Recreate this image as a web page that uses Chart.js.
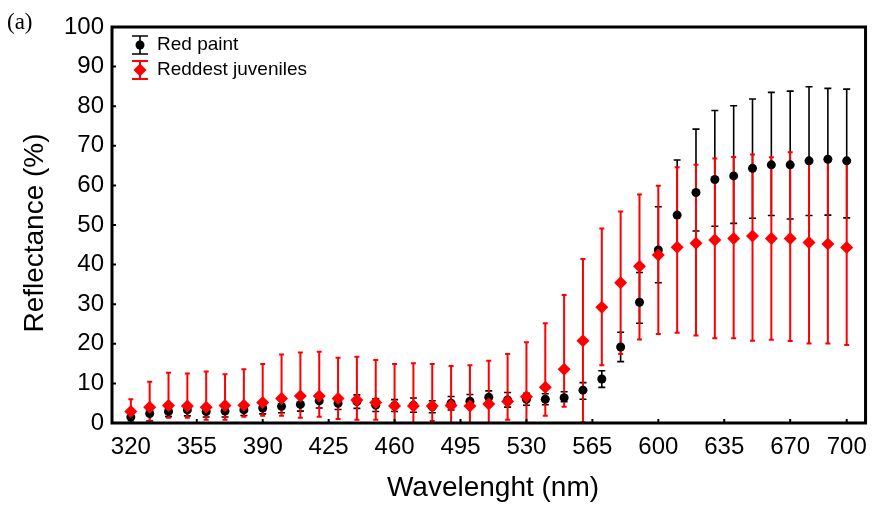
<!DOCTYPE html>
<html>
<head>
<meta charset="utf-8">
<script src="https://cdn.jsdelivr.net/npm/chart.js@4/dist/chart.umd.min.js"></script>
<style>
  html, body { margin: 0; padding: 0; background: #fff; }
  canvas { display: block; }
</style>
</head>
<body>
<canvas id="chart" width="877" height="506"></canvas>
<script>
// wavelengths (nm)
const wavelengths = [320, 330, 340, 350, 360, 370, 380, 390, 400, 410, 420, 430, 440, 450, 460, 470, 480, 490, 500,
  510, 520, 530, 540, 550, 560, 570, 580, 590, 600, 610, 620, 630, 640, 650, 660, 670, 680, 690, 700];

// Red paint: mean, lower and upper end of the error bar
const paintMean = [1.5, 2.4, 2.9, 3.3, 2.9, 3.0, 3.3, 3.8, 4.2, 4.7, 5.6, 5.0, 5.4, 4.5, 4.4, 4.5, 4.1, 5.0, 5.5,
  6.5, 5.8, 6.0, 6.0, 6.4, 8.3, 11.1, 19.2, 30.5, 43.7, 52.5, 58.2, 61.5, 62.4, 64.3, 65.2, 65.2, 66.2, 66.6, 66.2];
const paintLow = [0.2, 0.5, 1.6, 1.8, 1.5, 1.5, 1.9, 2.3, 2.6, 3.0, 3.8, 3.4, 3.7, 2.9, 2.9, 2.7, 2.6, 3.3, 4.0,
  5.4, 4.0, 4.5, 4.6, 5.4, 6.0, 9.0, 15.5, 25.2, 35.4, 44.0, 48.5, 49.7, 50.4, 51.7, 52.4, 51.5, 52.4, 52.5, 51.8];
const paintHigh = [2.8, 3.6, 4.1, 4.8, 4.3, 4.5, 4.7, 5.3, 5.8, 6.4, 7.4, 6.6, 7.1, 6.1, 5.9, 6.3, 5.6, 6.7, 7.2,
  8.1, 7.7, 7.5, 7.4, 7.9, 10.2, 13.2, 22.9, 38.0, 54.6, 66.4, 74.2, 78.9, 80.1, 81.8, 83.5, 83.8, 84.9, 84.5, 84.3];

// Reddest juveniles
const juvMean = [2.9, 4.0, 4.4, 4.3, 4.0, 4.4, 4.5, 5.2, 6.2, 6.8, 6.8, 6.2, 5.8, 5.2, 4.3, 4.3, 4.3, 4.4, 4.3,
  4.8, 5.4, 6.6, 9.0, 13.6, 20.8, 29.2, 35.4, 39.6, 42.4, 44.4, 45.4, 46.2, 46.6, 47.2, 46.6, 46.6, 45.6, 45.2, 44.3];
const juvLow = [1.6, 0.3, 1.3, 1.3, 0.8, 0.8, 1.6, 1.8, 1.8, 1.3, 1.6, 1.0, 0.8, 0.8, 0.0, 0.0, 0.5, 0.0, 0.0,
  0.0, 0.8, 0.0, 1.8, 4.1, 0.2, 14.6, 17.4, 21.1, 22.5, 22.8, 22.1, 21.4, 21.4, 20.8, 21.0, 20.7, 20.1, 20.1, 19.7];
const juvHigh = [6.0, 10.4, 12.7, 12.5, 13.0, 12.3, 13.6, 14.9, 17.3, 17.8, 18.0, 16.5, 16.7, 15.9, 14.9, 15.1, 14.9, 14.4, 14.6,
  15.7, 17.4, 20.4, 25.2, 32.3, 41.4, 49.1, 53.4, 57.7, 59.9, 64.6, 65.2, 66.8, 67.2, 67.8, 67.1, 68.4, 66.8, 67.2, 66.0];

const xTicks = [320, 355, 390, 425, 460, 495, 530, 565, 600, 635, 670, 700];

const FONT = "'Liberation Sans', Arial, sans-serif";
Chart.defaults.font.family = FONT;
Chart.defaults.color = '#000';

function toPoints(ys) {
  return wavelengths.map((w, i) => ({x: w, y: ys[i]}));
}

function drawBar(ctx, px, top, bottom, cap, color, width) {
  ctx.strokeStyle = color;
  ctx.lineWidth = width;
  ctx.beginPath();
  ctx.moveTo(px, top); ctx.lineTo(px, bottom);
  ctx.moveTo(px - cap, top); ctx.lineTo(px + cap, top);
  ctx.moveTo(px - cap, bottom); ctx.lineTo(px + cap, bottom);
  ctx.stroke();
}

const errorBars = {
  id: 'errorBars',
  beforeDatasetsDraw(chart) {
    const {ctx, scales: {x, y}} = chart;
    ctx.save();
    wavelengths.forEach((w, i) => {
      drawBar(ctx, x.getPixelForValue(w), y.getPixelForValue(paintHigh[i]), y.getPixelForValue(paintLow[i]), 3.5, '#000', 1.6);
    });
    wavelengths.forEach((w, i) => {
      drawBar(ctx, x.getPixelForValue(w), y.getPixelForValue(juvHigh[i]), y.getPixelForValue(juvLow[i]), 2.5, '#ff0000', 2);
    });
    ctx.restore();
  }
};

const frame = {
  id: 'frame',
  afterDraw(chart) {
    const {ctx, chartArea: a, scales: {x, y}} = chart;
    ctx.save();
    // inward ticks
    ctx.strokeStyle = '#000';
    ctx.lineWidth = 2;
    ctx.beginPath();
    x.ticks.forEach(t => {
      const px = x.getPixelForValue(t.value);
      ctx.moveTo(px, a.bottom); ctx.lineTo(px, a.bottom - 4);
    });
    y.ticks.forEach(t => {
      const py = y.getPixelForValue(t.value);
      ctx.moveTo(a.left, py); ctx.lineTo(a.left + 4, py);
    });
    ctx.stroke();
    // box
    ctx.lineWidth = 3;
    ctx.strokeRect(a.left, a.top, a.right - a.left, a.bottom - a.top);

    // legend
    drawBar(ctx, 140, 36, 54, 8, '#000', 1.6);
    ctx.fillStyle = '#000';
    ctx.beginPath(); ctx.arc(140, 45, 4.5, 0, Math.PI * 2); ctx.fill();
    drawBar(ctx, 140, 61, 79, 8, '#ff0000', 2);
    ctx.fillStyle = '#ff0000';
    ctx.beginPath();
    ctx.moveTo(133.5, 70); ctx.lineTo(140, 63.5); ctx.lineTo(146.5, 70); ctx.lineTo(140, 76.5);
    ctx.closePath(); ctx.fill();
    ctx.fillStyle = '#000';
    ctx.font = '19px ' + FONT;
    ctx.textAlign = 'left';
    ctx.textBaseline = 'middle';
    ctx.fillText('Red paint', 157, 45);
    ctx.fillText('Reddest juveniles', 157, 70);

    // axis titles
    ctx.font = '28px ' + FONT;
    ctx.textAlign = 'center';
    ctx.textBaseline = 'alphabetic';
    ctx.fillText('Wavelenght (nm)', 493, 496);
    ctx.save();
    ctx.translate(43, 233);
    ctx.rotate(-Math.PI / 2);
    ctx.fillText('Reflectance (%)', 0, 0);
    ctx.restore();

    // panel label
    ctx.font = "23px 'Liberation Serif', 'Times New Roman', serif";
    ctx.textAlign = 'left';
    ctx.fillText('(a)', 7, 29);
    ctx.restore();
  }
};

new Chart(document.getElementById('chart').getContext('2d'), {
  type: 'scatter',
  data: {
    datasets: [{
      label: 'Red paint',
      data: toPoints(paintMean),
      pointStyle: 'circle',
      pointRadius: 4.5,
      backgroundColor: '#000',
      borderWidth: 0,
      order: 1
    }, {
      label: 'Reddest juveniles',
      data: toPoints(juvMean),
      pointStyle: 'rectRot',
      pointRadius: 6.5,
      backgroundColor: '#ff0000',
      borderWidth: 0,
      order: 0
    }]
  },
  options: {
    responsive: false,
    animation: false,
    devicePixelRatio: 1,
    layout: { padding: { top: 27, right: 11, left: 0, bottom: 0 } },
    plugins: {
      legend: { display: false },
      tooltip: { enabled: false }
    },
    scales: {
      x: {
        type: 'linear',
        min: 310,
        max: 710,
        afterBuildTicks: s => { s.ticks = xTicks.map(v => ({value: v})); },
        afterFit: s => { s.height = 83; },
        grid: { display: false, drawTicks: false },
        border: { display: false },
        ticks: { font: { size: 24 }, padding: 10, maxRotation: 0, autoSkip: false }
      },
      y: {
        min: 0,
        max: 100,
        afterFit: s => { s.width = 112; },
        grid: { display: false, drawTicks: false },
        border: { display: false },
        ticks: { stepSize: 10, font: { size: 24 }, padding: 8 }
      }
    }
  },
  plugins: [errorBars, frame]
});
</script>
</body>
</html>
